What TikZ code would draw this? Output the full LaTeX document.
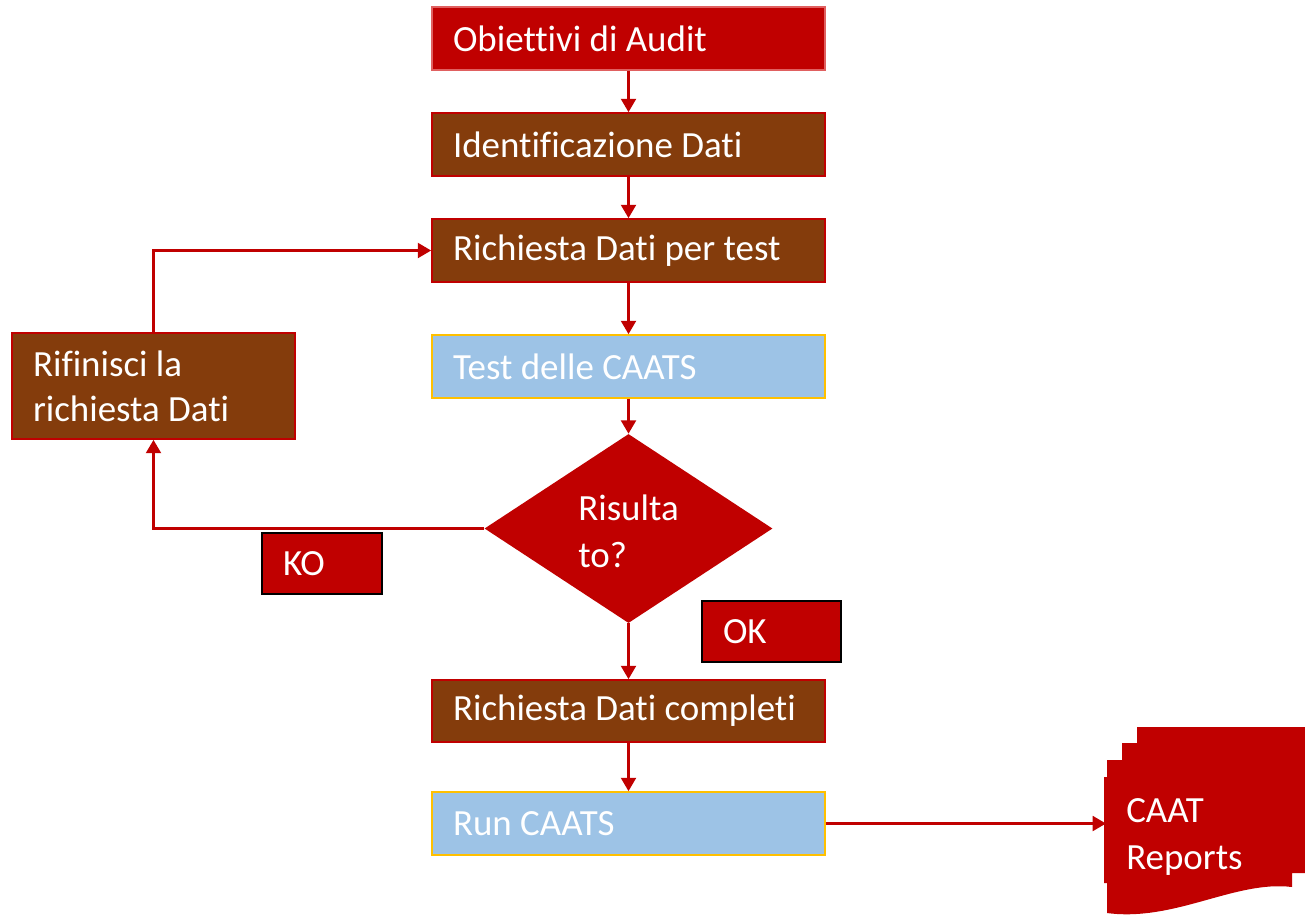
\documentclass[tikz,border=0pt]{standalone}
\usepackage{fontspec}
\setmainfont{Carlito}[RawFeature={-liga;-clig}]
\usetikzlibrary{arrows.meta,shapes.geometric}
\definecolor{cred}{HTML}{C00000}
\definecolor{cbrown}{HTML}{843C0C}
\definecolor{cblue}{HTML}{9DC3E6}
\definecolor{cgold}{HTML}{FFC000}
\definecolor{clred}{HTML}{E06060}
\newcommand{\boxfont}{\fontsize{27.7}{34}\selectfont}
\newcommand{\freefont}{\fontsize{27.7}{35}\selectfont}
\tikzset{
  fbox/.style={rectangle, text=white, align=flush left, inner xsep=15.75pt, inner ysep=0pt,
    font=\boxfont, line width=1.2pt},
  wide/.style={minimum width=294.75pt, text width=263.25pt, minimum height=47.25pt},
  redbox/.style={fbox, wide, fill=cred, draw=clred},
  brownbox/.style={fbox, wide, fill=cbrown, draw=cred},
  bluebox/.style={fbox, wide, fill=cblue, draw=cgold},
  tagbox/.style={fbox, fill=cred, draw=black, line width=1.5pt, minimum height=45.75pt},
  conn/.style={draw=cred, line width=2.2pt, -{Triangle[width=11pt,length=10pt]}},
  freetext/.style={align=left, inner sep=0pt, text=white, font=\freefont},
}
\begin{document}
\begin{tikzpicture}[x=0.75pt,y=-0.75pt]
\useasboundingbox (0,0) rectangle (1305,915);
\node[redbox] (obj) at (628.5,38.5) {Obiettivi di Audit};
\node[brownbox] (ident) at (628.5,144.5) {Identificazione Dati};
\node[brownbox] (rich) at (628.5,250.5) {Richiesta Dati per test};
\node[bluebox] (test) at (628.5,366.5) {Test delle CAATS};
\node[diamond, fill=cred, minimum width=216pt, minimum height=141.75pt, aspect=1.524, inner sep=0pt] (dec) at (628.5,528.5) {};
\node[freetext, anchor=west] (dtext) at (578,531) {Risulta\\to?};
\node[brownbox, minimum height=46.5pt] (compl) at (628.5,711) {Richiesta Dati completi};
\node[bluebox] (run) at (628.5,823.5) {Run CAATS};
\node[fbox, fill=cbrown, draw=cred, minimum width=212.25pt, text width=180.75pt, minimum height=79.5pt] (rif) at (153.5,386) {Rifinisci la\\richiesta Dati};
\node[tagbox, minimum width=90pt, text width=58.5pt] (ko) at (322,563.5) {KO};
\node[tagbox, minimum width=104.25pt, text width=72.75pt] (ok) at (771.5,631.5) {OK};
% multidocument
\fill[cred] (1137,727) -- (1305,727) -- (1305,873) -- (1292,873) -- (1292,887)
  .. controls (1235,880) and (1175,922) .. (1107,913) -- (1107,883) -- (1104,883)
  -- (1104,777) -- (1107,777) -- (1107,760) -- (1122,760) -- (1122,743) -- (1137,743) -- cycle;
\node[freetext, anchor=west] (rep) at (1126,837) {CAAT\\Reports};
\coordinate (repin) at (1106,823.5);
% connectors
\draw[conn] (obj.south) -- (ident.north);
\draw[conn] (ident.south) -- (rich.north);
\draw[conn] (rich.south) -- (test.north);
\draw[conn] (test.south) -- (dec.north);
\draw[conn] (dec.south) -- (compl.north);
\draw[conn] (compl.south) -- (run.north);
\draw[conn] (dec.west) -| (rif.south);
\draw[conn] (rif.north) |- (rich.west);
\draw[conn] (run.east) -- (repin);
\end{tikzpicture}
\end{document}
